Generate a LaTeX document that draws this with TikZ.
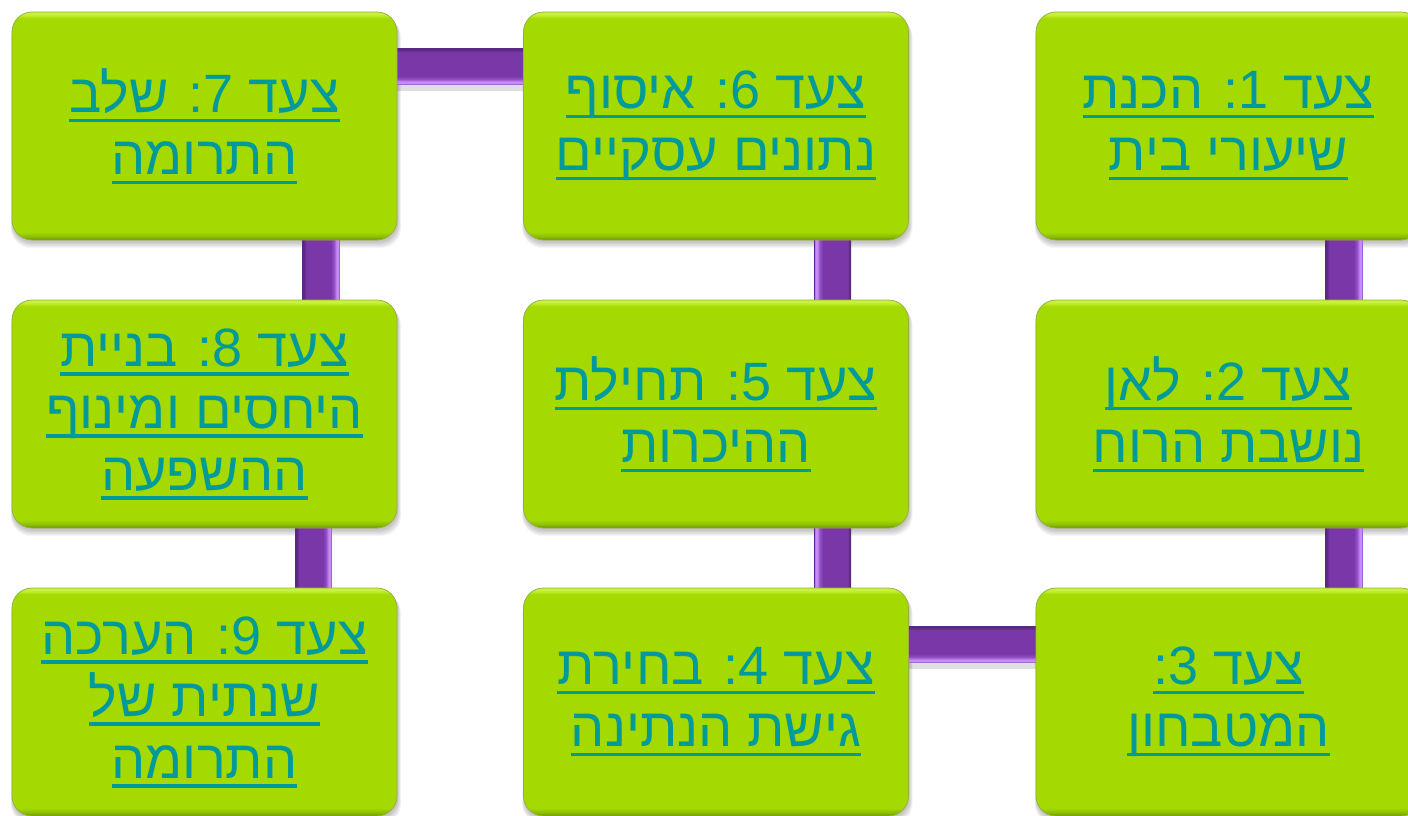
\documentclass[tikz,border=0pt]{standalone}
\usepackage{fontspec}
\newfontfamily\heb[Script=Hebrew]{Liberation Sans}
\TeXXeTstate=1
\usetikzlibrary{calc,backgrounds}
\definecolor{gmain}{HTML}{A4DA02}
\definecolor{gmid}{HTML}{8CBC00}
\definecolor{gdark}{HTML}{6A8E00}
\definecolor{glight}{HTML}{C8F23C}
\definecolor{txt}{HTML}{009A9A}
\definecolor{pmain}{HTML}{7A37A8}
\definecolor{pmid}{HTML}{9450C8}
\definecolor{plight}{HTML}{C88CF6}
\definecolor{pdark}{HTML}{5A2882}
\definecolor{pedge}{HTML}{6A2E98}
\pgfdeclareverticalshading{boxsh}{100bp}{color(0bp)=(gdark); color(25bp)=(gdark); color(25.7bp)=(gmid); color(26.8bp)=(gmain); color(73.6bp)=(gmain); color(74.5bp)=(glight); color(75bp)=(glight); color(100bp)=(glight)}
\pgfdeclareverticalshading{tubesh}{100bp}{color(0bp)=(pedge); color(25bp)=(pedge); color(26.4bp)=(plight); color(29bp)=(plight); color(32.5bp)=(pmid); color(37bp)=(pmain); color(70bp)=(pmain); color(73.5bp)=(pdark); color(75bp)=(pdark); color(100bp)=(pdark)}
\newcommand\ulline[1]{\setbox0=\hbox{\beginR #1\endR}\leavevmode\rlap{\rule[-9.5pt]{\wd0}{3.2pt}}\box0}
\newcommand\num[1]{\beginL#1\endL:}
\newcommand\bshadow[1]{%
  \foreach \d in {1,...,6}{%
    \fill[black,opacity=0.04,rounded corners=20pt] ($(#1.north west)+(1-\d*0.3,2+\d*0.6)$) rectangle ($(#1.south east)+(\d*0.6,1+\d*1.1)$);}}
\tikzset{
  stepbox/.style={rounded corners=20pt, shade, shading=boxsh, draw=gdark!70, line width=0.8pt,
    minimum width=385pt, minimum height=228pt, inner sep=0pt, align=center,
    text=txt, font=\heb\fontsize{54}{62}\selectfont},
  htube/.style={shade, shading=tubesh},
  dtube/.style={shade, shading=tubesh, shading angle=90},
  utube/.style={shade, shading=tubesh, shading angle=-90},
  tshadow/.style={fill=black, opacity=0.12}
}
\begin{document}
\begin{tikzpicture}[x=1pt,y=-1pt]
\useasboundingbox (0,0) rectangle (1408,816);
\clip (0,0) rectangle (1408,816);
\node[stepbox] (b7) at (204.5,126) {\ulline{צעד \num{7} שלב}\\\ulline{התרומה}};
\node[stepbox] (b6) at (716,126) {\ulline{צעד \num{6} איסוף}\\\ulline{נתונים עסקיים}};
\node[stepbox] (b1) at (1228.5,126) {\ulline{צעד \num{1} הכנת}\\\ulline{שיעורי בית}};
\node[stepbox] (b8) at (204.5,414) {\ulline{צעד \num{8} בניית}\\\ulline{היחסים ומינוף}\\\ulline{ההשפעה}};
\node[stepbox] (b5) at (716,414) {\ulline{צעד \num{5} תחילת}\\\ulline{ההיכרות}};
\node[stepbox] (b2) at (1228.5,414) {\ulline{צעד \num{2} לאן}\\\ulline{נושבת הרוח}};
\node[stepbox] (b9) at (204.5,702) {\ulline{צעד \num{9} הערכה}\\\ulline{שנתית של}\\\ulline{התרומה}};
\node[stepbox] (b4) at (716,702) {\ulline{צעד \num{4} בחירת}\\\ulline{גישת הנתינה}};
\node[stepbox] (b3) at (1228.5,702) {\ulline{צעד \num{3}}\\\ulline{המטבחון}};
\begin{scope}[on background layer]
  \fill[white] (0,0) rectangle (1408,816);
  \foreach \b in {b1,b2,b3,b4,b5,b6,b7,b8,b9}{\bshadow{\b}}
  % connector shadows
  \fill[tshadow] ($(b7.north east)+(0,73)$) rectangle ($(b6.north west)+(0,79)$);
  \fill[tshadow] ($(b4.north east)+(0,75)$) rectangle ($(b3.north west)+(0,81)$);
  % connectors
  \shade[htube] ($(b7.north east)+(-3,37)$) rectangle ($(b6.north west)+(3,73)$);
  \shade[htube] ($(b4.north east)+(-3,39)$) rectangle ($(b3.north west)+(3,75)$);
  \shade[dtube] ($(b7.south west)+(291,-3)$) rectangle ($(b8.north west)+(328,3)$);
  \shade[dtube] ($(b8.south west)+(284,-3)$) rectangle ($(b9.north west)+(320,3)$);
  \shade[utube] ($(b6.south west)+(291,-3)$) rectangle ($(b5.north west)+(328,3)$);
  \shade[utube] ($(b5.south west)+(291,-3)$) rectangle ($(b4.north west)+(328,3)$);
  \shade[dtube] ($(b1.south west)+(290,-3)$) rectangle ($(b2.north west)+(327,3)$);
  \shade[dtube] ($(b2.south west)+(290,-3)$) rectangle ($(b3.north west)+(327,3)$);
\end{scope}
\end{tikzpicture}
\end{document}
